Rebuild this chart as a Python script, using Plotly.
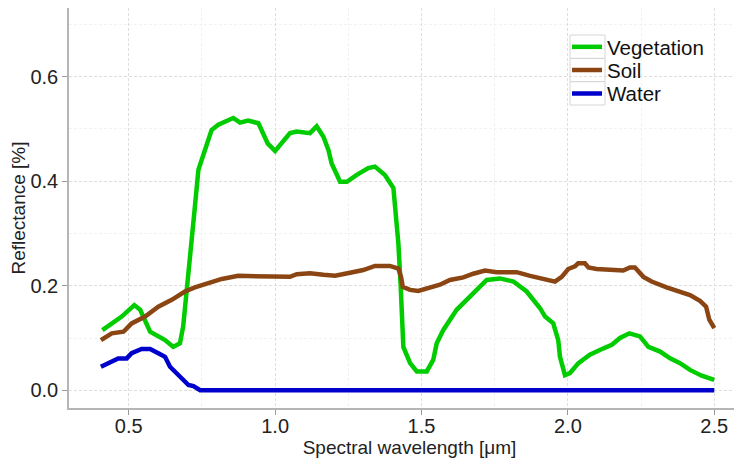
import plotly.graph_objects as go

# Vegetation spectrum
veg_x = [0.410, 0.476, 0.519, 0.539, 0.573, 0.624, 0.652, 0.675, 0.686, 0.698, 0.715, 0.726, 0.738,
         0.761, 0.783, 0.806, 0.857, 0.880, 0.908, 0.943, 0.965, 0.975, 1.000, 1.051, 1.074, 1.119,
         1.142, 1.165, 1.182, 1.193, 1.222, 1.245, 1.279, 1.318, 1.341, 1.375, 1.404, 1.413, 1.421,
         1.429, 1.432, 1.438, 1.461, 1.484, 1.518, 1.540, 1.552, 1.574, 1.620, 1.654, 1.689, 1.723,
         1.768, 1.814, 1.859, 1.905, 1.922, 1.950, 1.967, 1.973, 1.990, 2.007, 2.036, 2.075, 2.109,
         2.150, 2.178, 2.210, 2.246, 2.275, 2.315, 2.349, 2.383, 2.417, 2.457, 2.500]
veg_y = [0.115, 0.141, 0.163, 0.154, 0.112, 0.096, 0.083, 0.090, 0.122, 0.198, 0.288, 0.351, 0.422,
         0.460, 0.498, 0.508, 0.521, 0.512, 0.516, 0.511, 0.485, 0.472, 0.458, 0.492, 0.495, 0.492,
         0.505, 0.485, 0.460, 0.434, 0.399, 0.399, 0.412, 0.425, 0.428, 0.412, 0.387, 0.332, 0.281,
         0.198, 0.141, 0.083, 0.052, 0.036, 0.036, 0.058, 0.090, 0.115, 0.154, 0.173, 0.195, 0.211,
         0.214, 0.208, 0.189, 0.157, 0.141, 0.128, 0.096, 0.064, 0.029, 0.033, 0.052, 0.068, 0.077,
         0.087, 0.100, 0.109, 0.103, 0.083, 0.074, 0.061, 0.052, 0.039, 0.028, 0.020]

# Soil spectrum
soil_x = [0.405, 0.442, 0.482, 0.510, 0.556, 0.601, 0.647, 0.692, 0.726, 0.772, 0.818, 0.874, 1.000,
          1.051, 1.074, 1.119, 1.165, 1.205, 1.256, 1.301, 1.341, 1.392, 1.421, 1.430, 1.436, 1.461,
          1.489, 1.523, 1.563, 1.597, 1.643, 1.677, 1.717, 1.757, 1.825, 1.871, 1.916, 1.956, 1.979,
          2.001, 2.024, 2.035, 2.058, 2.070, 2.098, 2.189, 2.212, 2.229, 2.258, 2.286, 2.337, 2.371,
          2.417, 2.451, 2.472, 2.483, 2.500]
soil_y = [0.096, 0.109, 0.112, 0.128, 0.141, 0.160, 0.173, 0.189, 0.197, 0.205, 0.213, 0.219, 0.219,
          0.217, 0.222, 0.224, 0.221, 0.219, 0.225, 0.230, 0.238, 0.238, 0.233, 0.217, 0.198, 0.192,
          0.190, 0.195, 0.202, 0.211, 0.216, 0.223, 0.229, 0.226, 0.226, 0.219, 0.214, 0.208, 0.217,
          0.232, 0.237, 0.243, 0.243, 0.235, 0.232, 0.229, 0.235, 0.235, 0.217, 0.208, 0.197, 0.191,
          0.182, 0.171, 0.160, 0.135, 0.119]

# Water spectrum
water_x = [0.405, 0.442, 0.464, 0.493, 0.510, 0.544, 0.573, 0.601, 0.624, 0.641, 0.675, 0.704, 0.721,
           0.744, 1.000, 1.500, 2.000, 2.500]
water_y = [0.045, 0.055, 0.061, 0.061, 0.071, 0.079, 0.079, 0.071, 0.064, 0.045, 0.026, 0.010, 0.008,
           0.000, 0.000, 0.000, 0.000, 0.000]

x_ticks = [0.5, 1.0, 1.5, 2.0, 2.5]
y_ticks = [0.0, 0.2, 0.4, 0.6]

FONT = "Liberation Sans, Arial, sans-serif"
LW = 4.5

fig = go.Figure()
fig.add_trace(go.Scatter(x=veg_x, y=veg_y, mode="lines", name="Vegetation", legend="legend",
                         line=dict(color="#00CC00", width=LW)))
fig.add_trace(go.Scatter(x=soil_x, y=soil_y, mode="lines", name="Soil", legend="legend2",
                         line=dict(color="#8B4513", width=LW)))
fig.add_trace(go.Scatter(x=water_x, y=water_y, mode="lines", name="Water", legend="legend3",
                         line=dict(color="#0000CC", width=LW)))

axis_common = dict(
    showgrid=True, gridcolor="#dedede", gridwidth=1, griddash="3px,2px",
    zeroline=False, showline=True, linecolor="#b5b5b5", linewidth=1.5,
    ticks="outside", ticklen=5, tickcolor="#9a9a9a", tickwidth=1,
    tickfont=dict(family=FONT, size=20, color="#222222"),
    tickformat=".1f", automargin=False,
)

legend_common = dict(
    x=0.7313, xanchor="left", yanchor="middle",
    bgcolor="rgba(0,0,0,0)", borderwidth=0,
    font=dict(family=FONT, size=20.5, color="#111111"),
)

# legend background panel (hides grid behind legend) and legend key boxes
shapes = [dict(type="rect", xref="paper", yref="paper", x0=0.734, x1=0.944, y0=0.745, y1=0.9575,
               fillcolor="white", line=dict(width=0), layer="between")]
for y0, y1 in [(0.874, 0.9325), (0.816, 0.874), (0.7575, 0.816)]:
    shapes.append(dict(type="rect", xref="paper", yref="paper", x0=0.7357, x1=0.7871, y0=y0, y1=y1,
                       fillcolor="rgba(0,0,0,0)", line=dict(color="#d6d6d6", width=1), layer="above"))

fig.update_layout(
    width=742, height=459,
    margin=dict(l=61, r=0, t=0, b=59, autoexpand=False),
    paper_bgcolor="white", plot_bgcolor="white",
    font=dict(family=FONT, color="#222222"),
    xaxis=dict(
        **axis_common,
        range=[0.296, 2.622], tickvals=x_ticks, mirror=True, ticklabelstandoff=-6,
        title=dict(text="Spectral wavelength [μm]", font=dict(family=FONT, size=19), standoff=0),
        minor=dict(showgrid=True, gridcolor="#f2f2f2", gridwidth=1, griddash="3px,2px", dtick=0.25, tick0=0.25),
    ),
    yaxis=dict(
        **axis_common,
        range=[-0.0339, 0.7314], tickvals=y_ticks,
        title=dict(text="Reflectance [%]", font=dict(family=FONT, size=19), standoff=1),
        minor=dict(showgrid=True, gridcolor="#f2f2f2", gridwidth=1, griddash="3px,2px", dtick=0.2, tick0=0.1),
    ),
    legend=dict(**legend_common, y=0.9025),
    legend2=dict(**legend_common, y=0.8443),
    legend3=dict(**legend_common, y=0.786),
    shapes=shapes,
    showlegend=True,
)

fig.write_html("out.html")
